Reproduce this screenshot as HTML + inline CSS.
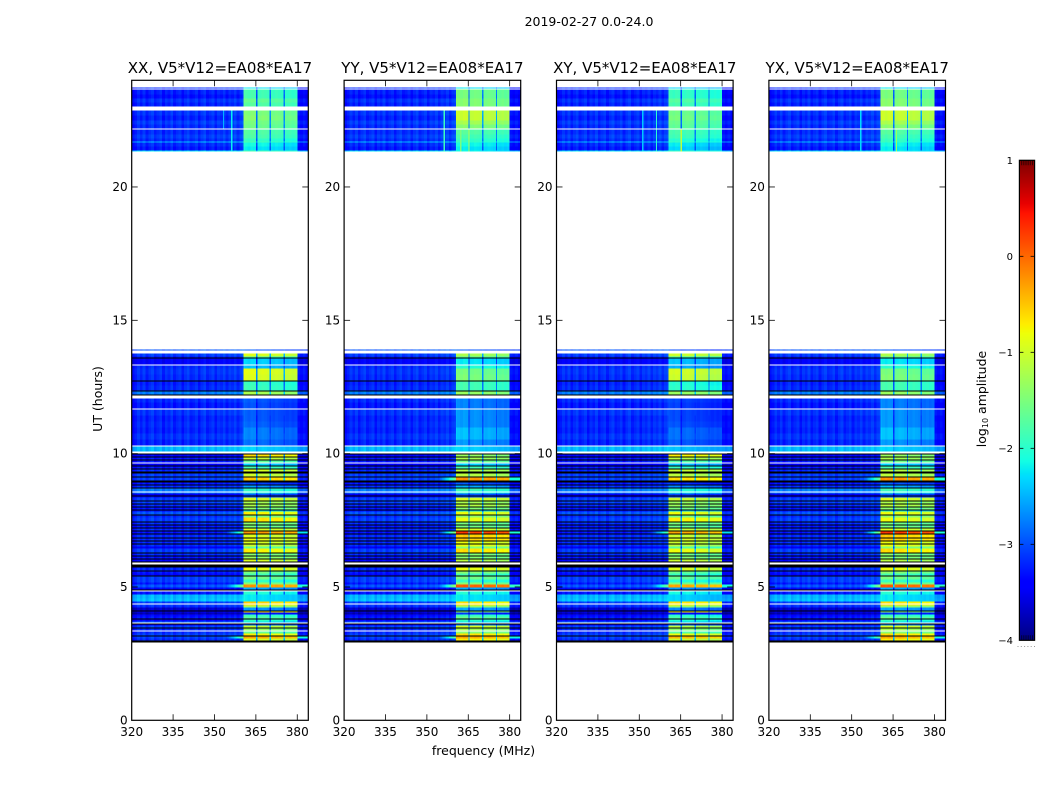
<!DOCTYPE html>
<html lang="en">
<head>
<meta charset="utf-8">
<title>2019-02-27 0.0-24.0</title>
<style>
html,body{margin:0;padding:0;background:#fff;}
#figure{display:block;width:1050px;height:800px;background:#fff;font-family:"DejaVu Sans","Liberation Sans",sans-serif;}
text{fill:#000;}
</style>
</head>
<body>
<svg id="figure" xmlns="http://www.w3.org/2000/svg" width="1050" height="800" viewBox="0 0 1050 800">
  <text x="589" y="26" font-size="12.5" text-anchor="middle">2019-02-27 0.0-24.0</text>
  <text x="483.5" y="755" font-size="12.5" text-anchor="middle">frequency (MHz)</text>
  <text transform="translate(102,399) rotate(-90)" font-size="12.5" text-anchor="middle">UT (hours)</text>
  <text transform="translate(986,399) rotate(-90)" font-size="12.5" text-anchor="middle">log<tspan font-size="8" dy="2">10</tspan><tspan dy="-2"> amplitude</tspan></text>
  <g id="panels"></g>
  <g id="colorbar"></g>
</svg>
<script>
// ---- chart data ----
const F = -9;    // flagged row, drawn black
const N = null;  // no data, drawn white

const panelTitles = ['XX, V5*V12=EA08*EA17', 'YY, V5*V12=EA08*EA17', 'XY, V5*V12=EA08*EA17', 'YX, V5*V12=EA08*EA17'];
const freqTicks = [320, 335, 350, 365, 380];
const utTicks = [0, 5, 10, 15, 20];
const colorTicks = [1, 0, -1, -2, -3, -4];

// Time rows, listed from latest to earliest UT: integrations per row and log10 amplitudes.
const firstRowUT = 23.7375;
const integrationHours = 0.0375;
const rowDumps = [
  1,1,5,4,4,4,4,5,5,4,
  4,1,5,4,3,1,4,4,1,198,
  1,3,3,1,1,6,1,3,6,6,
  1,4,5,1,3,1,3,4,6,1,
  6,6,6,6,6,6,1,5,2,1,
  2,1,2,1,2,1,2,1,2,1,
  2,2,3,1,3,2,2,1,2,1,
  2,1,1,1,2,1,1,3,1,2,
  1,2,1,2,1,1,3,1,2,4,
  1,2,1,2,1,2,1,2,1,3,
  1,2,1,2,1,2,2,4,1,2,
  1,2,1,2,1,2,3,3,1,2,
  2,1,3,3,2,3,2,1,1,3,
  4,3,2,1,1,2,3,1,1,2,
  2,2,1,2,1,1,1,1,2,1,
  2,1,2,2,1,2,2,2
];
const rowBackground = [
  -3.2,N,-3.25,-3.35,-3.15,-3.25,N,-3.15,-3.25,-3.1,
  -3.2,N,-3.2,-3.1,-3.2,-2.5,-3.2,-3.3,-2.3,N,
  -3.0,N,-3.1,-3.3,F,-3.45,N,-3.2,-3.15,-3.2,
  F,-3.25,-3.2,F,-2.8,F,N,-3.2,-3.3,N,
  -3.15,-3.25,-3.2,-3.25,-3.15,-3.25,N,-2.5,N,F,
  -3.4,F,-3.3,F,-3.3,N,-3.5,F,-3.3,F,
  -3.2,F,-3.1,F,-3.1,F,-3.3,F,-3.2,F,
  -2.8,-2.8,N,-2.8,-3.5,F,-3.4,-3.1,F,-3.1,
  F,-3.2,F,-3.3,F,-3.4,-3.0,F,-3.2,-3.1,
  F,-3.2,F,-3.3,F,-3.2,F,-3.3,F,-3.2,
  F,-3.2,F,-3.2,F,-3.2,-3.5,-3.1,F,-3.2,
  F,-3.3,F,-3.4,F,N,F,-3.2,F,-3.3,
  -3.4,F,-3.1,-3.1,-3.3,-3.0,-3.4,F,N,-3.3,
  -2.5,-2.45,-3.1,N,-3.1,-3.2,-3.7,F,-3.6,-3.8,
  -3.4,-3.3,F,-3.4,-2.9,N,F,-3.5,-3.1,F,
  -3.2,N,-3.2,-3.1,F,-3.1,-3.2,F
];
const rowBandXX = [
  -2.3,N,-1.9,-1.9,-1.7,-1.8,N,-1.55,-1.5,-1.6,
  -1.65,N,-1.8,-1.85,-2.0,-1.9,-2.2,-2.3,-1.9,N,
  -3.0,N,-1.0,-1.9,F,-2.4,N,-2.5,-0.95,-1.0,
  F,-2.0,-1.95,F,-1.3,F,N,-3.0,-3.05,N,
  -3.0,-3.0,-2.95,-2.8,-2.8,-2.9,N,-2.4,N,F,
  -0.7,F,-1.1,F,-1.7,N,-2.4,F,-1.9,F,
  -1.0,F,-1.1,F,-0.6,F,-3.1,F,-2.7,F,
  -2.0,-2.0,N,-2.1,-3.0,F,-3.1,-1.0,F,-1.3,
  F,-1.3,F,-1.5,F,-2.3,-0.8,F,-1.5,-0.7,
  F,-1.5,F,-1.6,F,-1.0,F,-0.3,F,-1.0,
  F,-0.9,F,-1.0,F,-1.1,-1.7,-0.8,F,-1.5,
  F,-1.4,F,-1.0,F,N,F,-0.9,F,-1.6,
  -1.9,F,-1.6,-2.0,-1.5,-0.3,-2.6,F,N,-2.1,
  -2.3,-2.3,-0.6,N,-0.7,-1.3,-2.7,F,-0.7,-3.3,
  -2.0,-1.8,F,-2.0,-2.3,N,F,-2.9,-1.1,F,
  -1.4,N,-1.7,-0.8,F,-0.4,-1.0,F
];
const rowBandYY = [
  -2.3,N,-1.6,-1.6,-1.5,-1.5,N,-1.1,-1.1,-1.3,
  -1.5,N,-1.8,-1.9,-2.0,-2.0,-2.2,-2.3,-2.2,N,
  -3.0,N,-1.3,-1.8,F,-2.3,N,-2.1,-1.6,-1.55,
  F,-1.9,-1.9,F,-1.4,F,N,-2.8,-2.8,N,
  -2.7,-2.7,-2.7,-2.5,-2.5,-2.7,N,-2.4,N,F,
  -1.4,F,-1.3,F,-1.6,N,-2.4,F,-1.9,F,
  -1.2,F,-1.2,F,-0.3,F,-3.0,F,-2.6,F,
  -1.9,-2.0,N,-2.1,-3.0,F,-3.1,-1.0,F,-1.3,
  F,-1.2,F,-1.5,F,-2.3,-0.9,F,-1.4,-0.9,
  F,-1.6,F,-1.6,F,-1.0,F,0.2,F,-0.6,
  F,-0.6,F,-0.9,F,-0.9,-1.5,-0.7,F,-1.5,
  F,-1.5,F,-1.2,F,N,F,-0.9,F,-1.5,
  -1.9,F,-1.6,-2.0,-1.5,0.0,-2.6,F,N,-2.1,
  -2.3,-2.3,-0.7,N,-0.7,-1.4,-2.6,F,-1.5,-3.2,
  -2.0,-1.7,F,-2.0,-2.3,N,F,-2.8,-1.0,F,
  -1.3,N,-1.5,-0.7,F,-0.4,-0.8,F
];
const panelBandRows = [rowBandXX, rowBandYY, rowBandXX, rowBandYY];
const panelBandShift = [0, 0, -0.1, 0];

// Background offset per 1 MHz channel from 320 to 383 MHz.
const channelOffset = [
  -0.15,-0.05,0.08,-0.04,0.1,-0.08,0.04,0.12,-0.06,0.02,
  0.1,-0.1,0.06,-0.02,0.12,-0.07,0.03,0.09,-0.09,0.05,
  0.13,-0.04,0.01,0.1,-0.08,0.06,0.14,-0.05,0.03,0.11,
  -0.07,0.08,0.02,0.13,-0.03,0.1,0.04,0.15,0.0,0.12,
  0.18,0.05,-0.06,0.08,0.03,-0.1,-0.04,0.07,0.02,-0.08,
  0.06,-0.03,0.08,0.0,-0.06,0.05,-0.02,0.07,-0.05,0.04,
  -0.1,-0.16,-0.08,-0.2
];
// Sub-band edges in MHz, the level offset of each, and the relative level in the gaps.
const bandStartMHz = [360.5, 365.5, 370.5, 375.5];
const bandEndMHz = [365, 370, 375, 380];
const bandBlockOffset = [0.08, 0.04, -0.02, -0.08];
const bandGapLevel = 0.28;

// Narrow vertical streaks in the late session.
const streakPanel = [0, 0, 1, 1, 1, 2, 2, 2, 3, 3];
const streakMHz = [356.25, 353.25, 356.25, 362.25, 365.25, 351.25, 356.25, 365.25, 353.25, 366.25];
const streakStartUT = [22.9, 22.9, 22.9, 22.2, 22.2, 22.9, 22.9, 22.1, 22.9, 22.1];
const streakEndUT = [21.35, 22.1, 21.35, 21.35, 21.35, 21.35, 21.35, 21.35, 21.35, 21.35];
const streakLevel = [-2.2, -2.5, -1.9, -1.5, -1.2, -2.4, -2.0, -1.1, -2.3, -1.3];

// ---- axes ----
const panelLeft = [131.7, 344.1, 556.5, 768.9];
const panelWidth = 176.6;
const plotTop = 80.3, plotBottom = 720.3;
const freqMin = 320, freqMax = 384, utMin = 0, utMax = 24;
const channelMHz = 0.5;
const cbarLeft = 1019.4, cbarRight = 1034.6, cbarTop = 160.3, cbarBottom = 640.3;
const cbarMin = -4, cbarMax = 1;

function xScale(panel, mhz) { return panelLeft[panel] + (mhz - freqMin) / (freqMax - freqMin) * panelWidth; }
function yScale(ut) { return plotBottom - (ut - utMin) / (utMax - utMin) * (plotBottom - plotTop); }
function cbarScale(v) { return cbarBottom - (v - cbarMin) / (cbarMax - cbarMin) * (cbarBottom - cbarTop); }

function jet(v) {
  const t = Math.min(1, Math.max(0, (v - cbarMin) / (cbarMax - cbarMin)));
  const ch = (a) => Math.round(255 * Math.min(1, Math.max(0, a)));
  const r = t < 0.35 ? 0 : t < 0.66 ? (t - 0.35) / 0.31 : t < 0.89 ? 1 : 1 - (t - 0.89) / 0.11 * 0.5;
  const g = t < 0.125 ? 0 : t < 0.375 ? (t - 0.125) / 0.25 : t < 0.64 ? 1 : t < 0.91 ? 1 - (t - 0.64) / 0.27 : 0;
  const b = t < 0.11 ? 0.5 + t / 0.11 * 0.5 : t < 0.34 ? 1 : t < 0.65 ? 1 - (t - 0.34) / 0.31 : 0;
  return 'rgb(' + ch(r) + ',' + ch(g) + ',' + ch(b) + ')';
}

const NS = 'http://www.w3.org/2000/svg';
function make(tag, parent, attrs, text) {
  const el = document.createElementNS(NS, tag);
  for (const k in attrs) el.setAttribute(k, attrs[k]);
  if (text !== undefined) el.textContent = text;
  parent.appendChild(el);
  return el;
}
function label(v) { return v < 0 ? '\u2212' + Math.abs(v) : String(v); }

function cellLevel(panel, rowIndex, mhz, utMid) {
  const bg = rowBackground[rowIndex];
  const band = panelBandRows[panel][rowIndex] + panelBandShift[panel];
  const ch = Math.min(channelOffset.length - 1, Math.floor(mhz - freqMin));
  const off = channelOffset[ch];
  let level;
  const mid = mhz + channelMHz / 2;
  let block = -1;
  for (let b = 0; b < bandStartMHz.length; b++) {
    if (mid >= bandStartMHz[b] && mid < bandEndMHz[b]) block = b;
  }
  if (block >= 0) {
    level = band + bandBlockOffset[block] + off * 0.4;
  } else if (mid >= bandStartMHz[0] && mid < bandEndMHz[bandEndMHz.length - 1]) {
    level = bg + (band - bg) * bandGapLevel + off;
  } else {
    level = bg + off;
    if (band > -0.45 && mid > 354 && mid < 360.5) level = Math.max(level, bg + (band - bg) * (mid - 354) / 6.5 * 0.55);
    if (band > -0.45 && mid >= 380) level = Math.max(level, bg + (band - bg) * 0.35);
  }
  for (let s = 0; s < streakMHz.length; s++) {
    if (streakPanel[s] === panel && Math.abs(mid - streakMHz[s]) < 0.2 &&
        utMid <= streakStartUT[s] && utMid >= streakEndUT[s]) {
      level = Math.max(level, streakLevel[s]);
    }
  }
  return level;
}

function drawHeatmap(panel, parent) {
  const g = make('g', parent, { 'shape-rendering': 'crispEdges' });
  
  
  const channels = Math.round((freqMax - freqMin) / channelMHz);
  let utTopEdge = firstRowUT;
  for (let r = 0; r < rowDumps.length; r++) {
    const utBottomEdge = utTopEdge - rowDumps[r] * integrationHours;
    const y0 = yScale(utTopEdge), y1 = yScale(utBottomEdge);
    const bg = rowBackground[r];
    if (bg === F) {
      const black = make('rect', g, { x: xScale(panel, freqMin), y: y0, width: panelWidth, height: y1 - y0, fill: '#000' });
      
      
    } else if (bg !== N) {
      const utMid = (utTopEdge + utBottomEdge) / 2;
      let runStart = 0;
      let runColor = jet(cellLevel(panel, r, freqMin, utMid));
      for (let c = 1; c <= channels; c++) {
        const color = c < channels ? jet(cellLevel(panel, r, freqMin + c * channelMHz, utMid)) : null;
        if (color !== runColor) {
          const x0 = xScale(panel, freqMin + runStart * channelMHz);
          const x1 = xScale(panel, freqMin + c * channelMHz);
          const cell = make('rect', g, { x: x0, y: y0, width: x1 - x0, height: y1 - y0, fill: runColor });
          
          
          runStart = c;
          runColor = color;
        }
      }
    }
    utTopEdge = utBottomEdge;
  }
}

function drawPanel(panel) {
  const root = document.getElementById('panels');
  const g = make('g', root, {});
  
  

  drawHeatmap(panel, g);

  const left = xScale(panel, freqMin), right = xScale(panel, freqMax);
  const frame = make('rect', g, { x: left, y: plotTop, width: right - left, height: plotBottom - plotTop, fill: 'none', stroke: '#000', 'stroke-width': 1.2 });
  
  

  const title = make('text', g, { x: (left + right) / 2, y: 73, 'font-size': 15, 'text-anchor': 'middle' }, panelTitles[panel]);
  
  

  freqTicks.forEach(function (f) {
    const x = xScale(panel, f);
    if (f !== freqMin) {
      const bottomTick = make('line', g, { x1: x, x2: x, y1: plotBottom, y2: plotBottom - 6, stroke: '#000', 'stroke-width': 0.8 });
      
      
      const topTick = make('line', g, { x1: x, x2: x, y1: plotTop, y2: plotTop + 6, stroke: '#000', 'stroke-width': 0.8 });
      
      
    }
    const tx = make('text', g, { x: x, y: 736, 'font-size': 12, 'text-anchor': 'middle' }, label(f));
    
    
  });

  utTicks.forEach(function (u) {
    const y = yScale(u);
    if (u !== utMin) {
      const leftTick = make('line', g, { x1: left, x2: left + 6, y1: y, y2: y, stroke: '#000', 'stroke-width': 0.8 });
      
      
      const rightTick = make('line', g, { x1: right, x2: right - 6, y1: y, y2: y, stroke: '#000', 'stroke-width': 0.8 });
      
      
    }
    const ty = make('text', g, { x: left - 4, y: y + 4, 'font-size': 12, 'text-anchor': 'end' }, label(u));
    
    
  });
}

function drawColorbar() {
  const g = document.getElementById('colorbar');
  const steps = 240;
  const ramp = make('g', g, { 'shape-rendering': 'crispEdges' });
  
  
  for (let i = 0; i < steps; i++) {
    const v0 = cbarMin + (cbarMax - cbarMin) * i / steps;
    const v1 = cbarMin + (cbarMax - cbarMin) * (i + 1) / steps;
    const seg = make('rect', ramp, { x: cbarLeft, y: cbarScale(v1), width: cbarRight - cbarLeft, height: cbarScale(v0) - cbarScale(v1), fill: jet((v0 + v1) / 2) });
    
    
  }
  const frame = make('rect', g, { x: cbarLeft, y: cbarTop, width: cbarRight - cbarLeft, height: cbarBottom - cbarTop, fill: 'none', stroke: '#000', 'stroke-width': 1.2 });
  
  

  colorTicks.forEach(function (v) {
    const y = cbarScale(v);
    if (v !== cbarMax && v !== cbarMin) {
      const l = make('line', g, { x1: cbarLeft, x2: cbarLeft + 4, y1: y, y2: y, stroke: '#000', 'stroke-width': 0.8 });
      
      
      const r = make('line', g, { x1: cbarRight, x2: cbarRight - 4, y1: y, y2: y, stroke: '#000', 'stroke-width': 0.8 });
      
      
    }
    const t = make('text', g, { x: 1013, y: y + 3.5, 'font-size': 10, 'text-anchor': 'end' }, label(v));
    
    
  });

  for (let i = 0; i < 6; i++) {
    const x = cbarLeft + 2.4 + i * 2.1;
    const topMark = make('line', g, { x1: x, x2: x, y1: cbarTop, y2: cbarTop + 5, stroke: '#000', 'stroke-width': 0.6 });
    
    
    const bottomMark = make('line', g, { x1: x, x2: x, y1: cbarBottom, y2: cbarBottom - 5, stroke: '#000', 'stroke-width': 0.6 });
    
    
    const dot = make('rect', g, { x: 1017.5 + i * 3.3, y: 646, width: 1, height: 1, fill: '#999' });
    
    
  }
}

panelTitles.forEach(function (_, i) { drawPanel(i); });
drawColorbar();
</script>
</body>
</html>
